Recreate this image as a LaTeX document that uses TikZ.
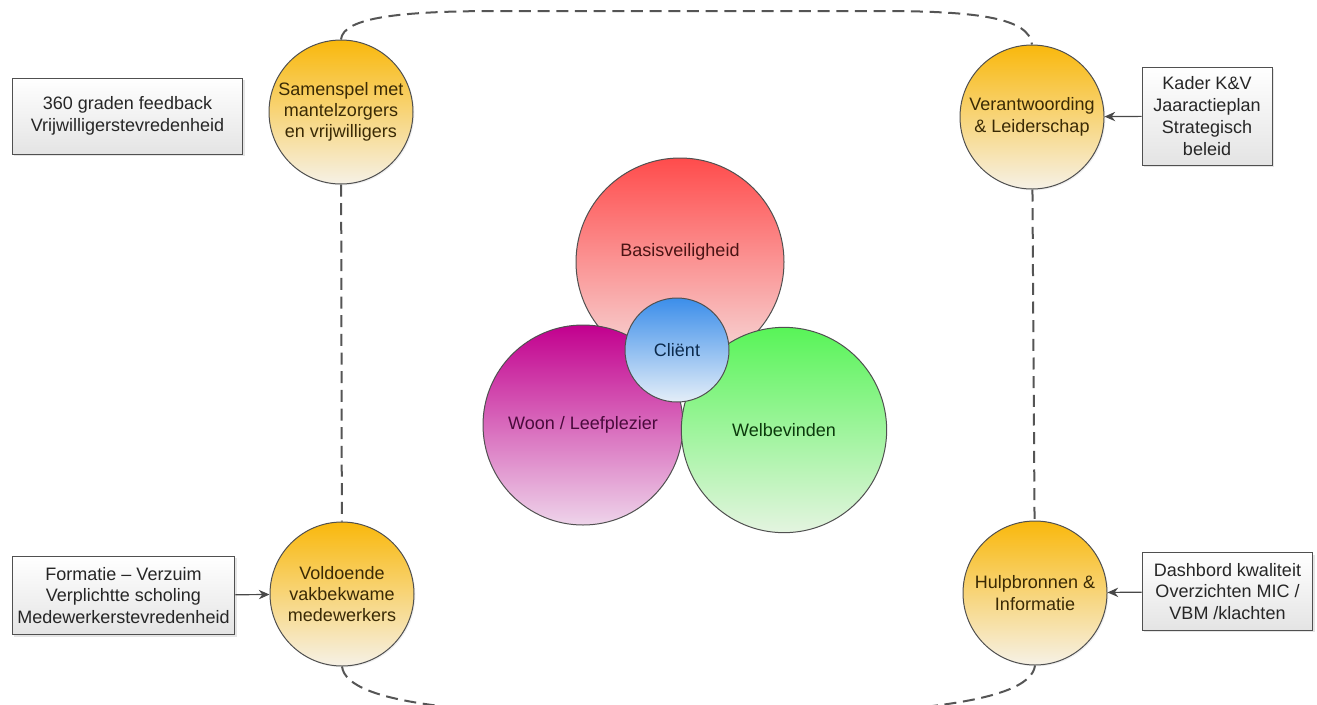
\documentclass[tikz,border=0pt]{standalone}
\usepackage{fontspec}
\setmainfont{Liberation Sans}
\usetikzlibrary{positioning}
\usetikzlibrary{arrows.meta}
\usetikzlibrary{shadows}

\definecolor{rand}{HTML}{505050}
\definecolor{lijn}{HTML}{555555}
\definecolor{oranjeT}{HTML}{F9B80C}
\definecolor{oranjeM}{HTML}{F9C842}
\definecolor{oranjeB}{HTML}{F6F1E6}
\definecolor{oranjeTxt}{HTML}{3A2A05}
\definecolor{roodT}{HTML}{FF4C4C}
\definecolor{roodB}{HTML}{F6DCDC}
\definecolor{roodTxt}{HTML}{4A1414}
\definecolor{paarsT}{HTML}{C2008E}
\definecolor{paarsB}{HTML}{EED4EA}
\definecolor{paarsTxt}{HTML}{4A0A3C}
\definecolor{groenT}{HTML}{58F458}
\definecolor{groenB}{HTML}{E4F4E0}
\definecolor{groenTxt}{HTML}{0C3A0C}
\definecolor{blauwT}{HTML}{3C8EEA}
\definecolor{blauwB}{HTML}{E4EEF8}
\definecolor{blauwTxt}{HTML}{0C2A4C}
\definecolor{grijsB}{HTML}{E4E4E4}
\definecolor{tekst}{HTML}{262626}

\tikzset{>={Stealth[length=8pt,width=7pt]}}
\tikzset{kring/.style={draw=rand, circle, inner sep=0pt, line width=0.75pt, font=\fontsize{13.5}{16}\selectfont}}
\tikzset{pijler/.style={kring, minimum size=108pt, align=center, top color=oranjeT, middle color=oranjeM, bottom color=oranjeB, text=oranjeTxt, drop shadow={opacity=0.12, shadow xshift=1pt, shadow yshift=-1pt}}}
\tikzset{meting/.style={draw=rand, rectangle, inner sep=2pt, line width=0.75pt, align=center, top color=white, bottom color=grijsB, text=tekst, font=\fontsize{13.5}{16.3}\selectfont, drop shadow={opacity=0.2, shadow xshift=1.5pt, shadow yshift=-1.5pt}}}
\tikzset{pijl/.style={draw=rand!90!black, line width=0.9pt}}
\tikzset{lus/.style={draw=lijn, line width=1.5pt, dash pattern=on 9pt off 5pt}}

\begin{document}
\begin{tikzpicture}[x=0.75pt,y=-0.75pt]
\useasboundingbox[fill=white] (0,0) rectangle (1317,704);

\node[kring, minimum size=156pt, top color=roodT, bottom color=roodB] (basis) at (680,262) {};
\node[text=roodTxt, font=\fontsize{13.5}{16}\selectfont] (basistekst) at ([yshift=7.5pt]basis.center) {Basisveiligheid};
\node[kring, minimum size=150pt, top color=paarsT, bottom color=paarsB, text=paarsTxt] (woon) at (583,425) {Woon / Leefplezier};
\node[kring, minimum size=154pt, top color=groenT, bottom color=groenB, text=groenTxt] (welbev) at (784,430) {Welbevinden};
\node[kring, minimum size=78pt, top color=blauwT, bottom color=blauwB, text=blauwTxt] (client) at (677,350) {Cliënt};

\node[pijler] (samen) at (341,112) {Samenspel met\\mantelzorgers\\en vrijwilligers};
\node[pijler] (verant) at (1032,117) {Verantwoording\\\& Leiderschap};
\node[pijler] (volde) at (342,594) {Voldoende\\vakbekwame\\medewerkers};
\node[pijler] (hulp) at (1035,593) {Hulpbronnen \&\\Informatie};

\node[meting, minimum width=173pt, minimum height=57pt] (feedback) at (127.5,116) {360 graden feedback\\Vrijwilligerstevredenheid};
\node[meting, minimum width=97.5pt, minimum height=73.5pt] (kader) at (1207,116) {Kader K\&V\\Jaaractieplan\\Strategisch\\beleid};
\node[meting, minimum width=167pt, minimum height=59pt] (formatie) at (123.5,595.5) {Formatie -- Verzuim\\Verplichtte scholing\\Medewerkerstevredenheid};
\node[meting, minimum width=128pt, minimum height=58pt] (dashbord) at (1227.5,591.5) {Dashbord kwaliteit\\Overzichten MIC /\\VBM /klachten};

\draw[pijl, ->] (formatie) -- (volde);
\draw[pijl, ->] (kader) -- (verant);
\draw[pijl, ->] (dashbord) -- (hulp);

\draw[lus] (samen) -- (volde);
\draw[lus] (verant) -- (hulp);
\draw[lus] (samen.north) .. controls +(2,-22) and +(-100,0) .. (500,11)
 -- (880,11)
 .. controls +(100,0) and +(-3,-26) .. (verant.north);
\draw[lus] (volde.south) .. controls +(5,40) and +(-200,0) .. (688,716)
 .. controls +(200,0) and +(-5,40) .. (hulp.south);
\end{tikzpicture}
\end{document}
